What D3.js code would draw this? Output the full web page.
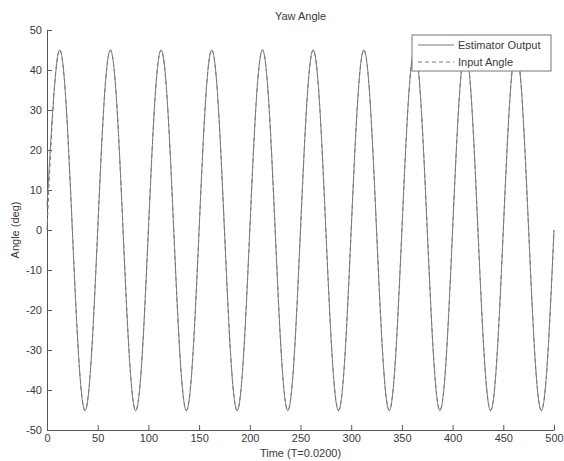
<!DOCTYPE html>
<html>
<head>
<meta charset="utf-8">
<script src="https://cdn.jsdelivr.net/npm/d3@7"></script>
<style>
  body { margin: 0; background: #fff; }
  text { font-family: "Liberation Sans", Arial, sans-serif; fill: #3a3a3a; }
</style>
</head>
<body>
<svg id="chart" width="564" height="461"></svg>
<script>
// ---- data ----
const time = [
  0, 6.25, 12.5, 18.75, 25, 31.25, 37.5, 43.75,
  50, 56.25, 62.5, 68.75, 75, 81.25, 87.5, 93.75,
  100, 106.25, 112.5, 118.75, 125, 131.25, 137.5, 143.75,
  150, 156.25, 162.5, 168.75, 175, 181.25, 187.5, 193.75,
  200, 206.25, 212.5, 218.75, 225, 231.25, 237.5, 243.75,
  250, 256.25, 262.5, 268.75, 275, 281.25, 287.5, 293.75,
  300, 306.25, 312.5, 318.75, 325, 331.25, 337.5, 343.75,
  350, 356.25, 362.5, 368.75, 375, 381.25, 387.5, 393.75,
  400, 406.25, 412.5, 418.75, 425, 431.25, 437.5, 443.75,
  450, 456.25, 462.5, 468.75, 475, 481.25, 487.5, 493.75,
  500
];
const estimatorOutput = [
  6, 32, 45, 31.8, 0, -31.8, -45.2, -31.8,
  0, 31.8, 45, 31.8, 0, -31.8, -45.2, -31.8,
  0, 31.8, 45, 31.8, 0, -31.8, -45.2, -31.8,
  0, 31.8, 45, 31.8, 0, -31.8, -45.2, -31.8,
  0, 31.8, 45, 31.8, 0, -31.8, -45.2, -31.8,
  0, 31.8, 45, 31.8, 0, -31.8, -45.2, -31.8,
  0, 31.8, 45, 31.8, 0, -31.8, -45.2, -31.8,
  0, 31.8, 45, 31.8, 0, -31.8, -45.2, -31.8,
  0, 31.8, 45, 31.8, 0, -31.8, -45.2, -31.8,
  0, 31.8, 45, 31.8, 0, -31.8, -45.2, -31.8,
  0
];
const inputAngle = [
  0, 31.8, 45, 31.8, 0, -31.8, -45, -31.8,
  0, 31.8, 45, 31.8, 0, -31.8, -45, -31.8,
  0, 31.8, 45, 31.8, 0, -31.8, -45, -31.8,
  0, 31.8, 45, 31.8, 0, -31.8, -45, -31.8,
  0, 31.8, 45, 31.8, 0, -31.8, -45, -31.8,
  0, 31.8, 45, 31.8, 0, -31.8, -45, -31.8,
  0, 31.8, 45, 31.8, 0, -31.8, -45, -31.8,
  0, 31.8, 45, 31.8, 0, -31.8, -45, -31.8,
  0, 31.8, 45, 31.8, 0, -31.8, -45, -31.8,
  0, 31.8, 45, 31.8, 0, -31.8, -45, -31.8,
  0
];
const xTicks = [0, 50, 100, 150, 200, 250, 300, 350, 400, 450, 500];
const yTicks = [-50, -40, -30, -20, -10, 0, 10, 20, 30, 40, 50];
const seriesNames = ["Estimator Output", "Input Angle"];
const titleText = "Yaw Angle";
const xLabelText = "Time (T=0.0200)";
const yLabelText = "Angle (deg)";

// ---- layout ----
const svg = d3.select("#chart");
const mLeft = 47, mRight = 554, mTop = 30, mBottom = 430;
const x = d3.scaleLinear().domain([0, 500]).range([mLeft, mRight]);
const y = d3.scaleLinear().domain([-50, 50]).range([mBottom, mTop]);
const axisColor = "#555";
const lineColor = "#7a7a7a";
const fmt = d => String(d);

// axes (MATLAB style, ticks inward, no box)
const xAxis = svg.append("g").attr("transform", `translate(0,${mBottom})`)
  .call(d3.axisBottom(x).tickValues(xTicks).tickFormat(fmt)
    .tickSizeInner(-5).tickSizeOuter(0).tickPadding(4));
const yAxis = svg.append("g").attr("transform", `translate(${mLeft},0)`)
  .call(d3.axisLeft(y).tickValues(yTicks).tickFormat(fmt)
    .tickSizeInner(-5).tickSizeOuter(0).tickPadding(5));
[xAxis, yAxis].forEach(g => {
  g.selectAll("path, line").attr("stroke", axisColor);
  g.selectAll("text").attr("font-size", 11).attr("fill", "#3a3a3a")
    .attr("font-family", "Liberation Sans, Arial, sans-serif");
});

// lines
const mkLine = (vals) => d3.line()
  .x((d, i) => x(time[i]))
  .y(d => y(d))
  .curve(d3.curveNatural)(vals);

svg.append("path").attr("d", mkLine(inputAngle))
  .attr("fill", "none").attr("stroke", lineColor).attr("stroke-width", 1)
  .attr("stroke-dasharray", "4,3");
svg.append("path").attr("d", mkLine(estimatorOutput))
  .attr("fill", "none").attr("stroke", lineColor).attr("stroke-width", 1);

// title and labels
svg.append("text").attr("x", (mLeft + mRight) / 2).attr("y", 20)
  .attr("text-anchor", "middle").attr("font-size", 11).text(titleText);
svg.append("text").attr("x", (mLeft + mRight) / 2).attr("y", 457)
  .attr("text-anchor", "middle").attr("font-size", 11).text(xLabelText);
svg.append("text").attr("transform", `translate(19,${(mTop + mBottom) / 2}) rotate(-90)`)
  .attr("text-anchor", "middle").attr("font-size", 11).text(yLabelText);

// legend
const lg = svg.append("g");
lg.append("rect").attr("x", 412).attr("y", 35).attr("width", 139).attr("height", 36)
  .attr("fill", "#fff").attr("stroke", "#777");
seriesNames.forEach((name, i) => {
  const ly = 45 + i * 17;
  lg.append("line").attr("x1", 418).attr("x2", 454).attr("y1", ly).attr("y2", ly)
    .attr("stroke", lineColor).attr("stroke-width", 1)
    .attr("stroke-dasharray", i === 1 ? "4,3" : null);
  lg.append("text").attr("x", 458).attr("y", ly + 4).attr("font-size", 11).text(name);
});
</script>
</body>
</html>
